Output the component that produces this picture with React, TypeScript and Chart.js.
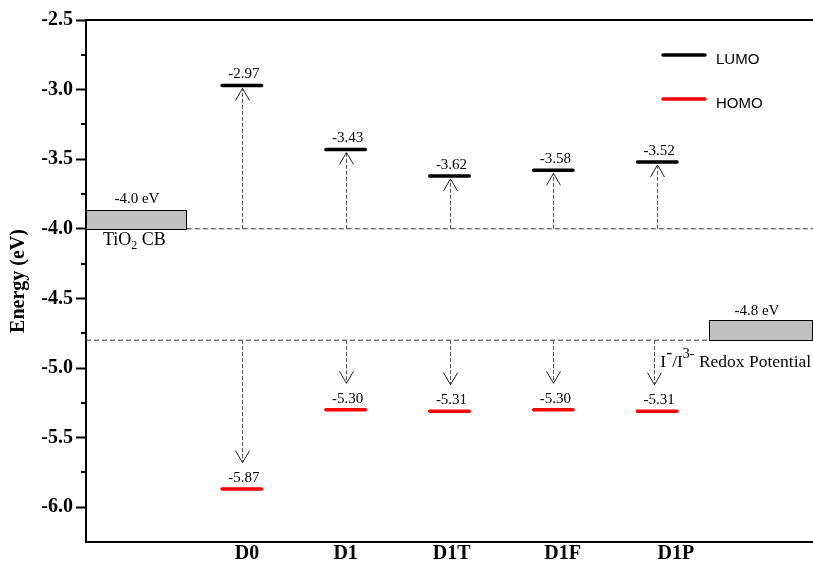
import React, { useEffect, useRef } from 'react';
import { Chart, registerables } from 'chart.js';

Chart.register(...registerables);

// ---------- data ----------
const categories = ['D0', 'D1', 'D1T', 'D1F', 'D1P'];
const lumo = [-2.97, -3.43, -3.62, -3.58, -3.52];
const homo = [-5.87, -5.3, -5.31, -5.3, -5.31];
const lumoLabels = ['-2.97', '-3.43', '-3.62', '-3.58', '-3.52'];
const homoLabels = ['-5.87', '-5.30', '-5.31', '-5.30', '-5.31'];
const tio2CB = -4.0;
const redoxPotential = -4.8;
const tio2Label = '-4.0 eV';
const redoxLabel = '-4.8 eV';
const yMajorTicks = [-2.5, -3.0, -3.5, -4.0, -4.5, -5.0, -5.5, -6.0];
const yMinorTicks = [-2.75, -3.25, -3.75, -4.25, -4.75, -5.25, -5.75];
const legendLabels = ['LUMO', 'HOMO'];

// ---------- style ----------
const SERIF = '"Liberation Serif", "Times New Roman", Times, serif';
const SANS = '"Liberation Sans", Arial, sans-serif';
const HALF = 0.19;
const xLabelShift = [0.05, 0, 0.02, 0.09, 0.18];

function levelData(values: number[]) {
  const pts: { x: number; y: number | null }[] = [];
  values.forEach((v, i) => {
    pts.push({ x: i + 1 - HALF, y: v });
    pts.push({ x: i + 1 + HALF, y: v });
    pts.push({ x: i + 1 + HALF + 0.01, y: null });
  });
  return pts;
}

function drawArrow(ctx: CanvasRenderingContext2D, px: number, y0: number, y1: number) {
  const x = Math.round(px) + 0.5;
  ctx.save();
  ctx.lineWidth = 1;
  ctx.strokeStyle = '#555';
  ctx.setLineDash([4, 2]);
  ctx.beginPath();
  ctx.moveTo(x, y0);
  ctx.lineTo(x, y1);
  ctx.stroke();
  ctx.setLineDash([]);
  ctx.strokeStyle = '#222';
  const dir = y1 < y0 ? 1 : -1;
  ctx.beginPath();
  ctx.moveTo(x - 7, y1 + dir * 12);
  ctx.lineTo(x, y1);
  ctx.lineTo(x + 7, y1 + dir * 12);
  ctx.stroke();
  ctx.restore();
}

function drawRich(
  ctx: CanvasRenderingContext2D,
  x: number,
  y: number,
  parts: { t: string; size: number; dy: number }[]
) {
  let cx = x;
  ctx.save();
  ctx.textAlign = 'left';
  ctx.textBaseline = 'alphabetic';
  ctx.fillStyle = '#000';
  for (const p of parts) {
    ctx.font = `${p.size}px ${SERIF}`;
    ctx.fillText(p.t, cx, y + p.dy);
    cx += ctx.measureText(p.t).width;
  }
  ctx.restore();
}

const annotate = {
  id: 'annotate',
  afterDatasetsDraw(chart: any) {
    const { ctx, chartArea } = chart;
    const xs = chart.scales.x;
    const ys = chart.scales.y;
    ctx.save();

    // top frame line
    ctx.strokeStyle = '#000';
    ctx.lineWidth = 2;
    ctx.beginPath();
    ctx.moveTo(chartArea.left - 1, chartArea.top);
    ctx.lineTo(chartArea.right, chartArea.top);
    ctx.stroke();

    // minor ticks
    ctx.lineWidth = 2;
    yMinorTicks.forEach((v) => {
      const py = Math.round(ys.getPixelForValue(v));
      ctx.beginPath();
      ctx.moveTo(chartArea.left - 5, py);
      ctx.lineTo(chartArea.left, py);
      ctx.stroke();
    });

    // boxes
    ctx.lineWidth = 1;
    const drawBox = (x0: number, x1: number, yTop: number, yBot: number) => {
      const l = Math.round(xs.getPixelForValue(x0)) + 0.5;
      const r = Math.round(xs.getPixelForValue(x1)) - 0.5;
      const t = Math.round(ys.getPixelForValue(yTop)) + 0.5;
      const b = Math.round(ys.getPixelForValue(yBot)) + 0.5;
      ctx.fillStyle = '#c0c0c0';
      ctx.fillRect(l, t, r - l, b - t);
      ctx.strokeStyle = '#000';
      ctx.strokeRect(l, t, r - l, b - t);
    };
    drawBox(-0.5, 0.47, tio2CB + 0.135, tio2CB);
    drawBox(5.5, 6.5, redoxPotential + 0.145, redoxPotential);

    // arrows
    const baseL = ys.getPixelForValue(tio2CB);
    const baseH = ys.getPixelForValue(redoxPotential);
    categories.forEach((_, i) => {
      const px = xs.getPixelForValue(i + 1);
      drawArrow(ctx, px, baseL, ys.getPixelForValue(lumo[i]) + 3);
      const hx = xs.getPixelForValue(i + 1 + (i === 4 ? -0.03 : 0));
      drawArrow(ctx, hx, baseH, ys.getPixelForValue(homo[i] + 0.19));
    });

    // value labels
    ctx.fillStyle = '#000';
    ctx.textAlign = 'center';
    ctx.textBaseline = 'alphabetic';
    ctx.font = `15px ${SERIF}`;
    categories.forEach((_, i) => {
      const px = xs.getPixelForValue(i + 1) + 2;
      ctx.fillText(lumoLabels[i], px, ys.getPixelForValue(lumo[i]) - 7);
      ctx.fillText(homoLabels[i], px, ys.getPixelForValue(homo[i]) - 7);
    });

    // box labels
    ctx.fillText(tio2Label, xs.getPixelForValue(-0.01), ys.getPixelForValue(tio2CB + 0.135) - 7);
    ctx.fillText(redoxLabel, xs.getPixelForValue(5.96), ys.getPixelForValue(redoxPotential + 0.145) - 5);

    drawRich(ctx, chartArea.left + 17, ys.getPixelForValue(tio2CB) + 9 + 7, [
      { t: 'TiO', size: 18, dy: 0 },
      { t: '2', size: 12, dy: 4 },
      { t: ' CB', size: 18, dy: 0 },
    ]);
    drawRich(ctx, xs.getPixelForValue(5.03), ys.getPixelForValue(redoxPotential) + 27, [
      { t: 'I', size: 17.5, dy: 0 },
      { t: '-', size: 18, dy: -9 },
      { t: '/I', size: 17.5, dy: 0 },
      { t: '3-', size: 14, dy: -9 },
      { t: ' Redox Potential', size: 17.5, dy: 0 },
    ]);

    // legend
    const lx0 = chartArea.left + 577;
    const lx1 = lx0 + 42;
    const legendColors = ['#000', '#ff0000'];
    legendLabels.forEach((lab, i) => {
      const ly = chartArea.top + 35 + i * 44;
      ctx.strokeStyle = legendColors[i];
      ctx.lineWidth = 3.5;
      ctx.lineCap = 'round';
      ctx.beginPath();
      ctx.moveTo(lx0, ly);
      ctx.lineTo(lx1, ly);
      ctx.stroke();
      ctx.fillStyle = '#000';
      ctx.textAlign = 'left';
      ctx.font = `15px ${SANS}`;
      ctx.fillText(lab, lx1 + 11, ly + 9);
    });

    ctx.restore();
  },
};

export default function App() {
  const ref = useRef<HTMLCanvasElement | null>(null);

  useEffect(() => {
    if (!ref.current) return;
    const chart = new Chart(ref.current, {
      type: 'scatter',
      data: {
        datasets: [
          {
            label: 'LUMO',
            data: levelData(lumo),
            showLine: true,
            spanGaps: false,
            borderColor: '#000',
            borderWidth: 3.5,
            borderCapStyle: 'round',
            pointRadius: 0,
          },
          {
            label: 'HOMO',
            data: levelData(homo),
            showLine: true,
            spanGaps: false,
            borderColor: '#ff0000',
            borderWidth: 3.5,
            borderCapStyle: 'round',
            pointRadius: 0,
          },
          {
            label: 'TiO2 CB',
            data: [
              { x: 0.47, y: tio2CB },
              { x: 6.5, y: tio2CB },
            ],
            showLine: true,
            borderColor: '#333',
            borderWidth: 1,
            borderDash: [5, 3],
            pointRadius: 0,
          },
          {
            label: 'Redox',
            data: [
              { x: -0.5, y: redoxPotential },
              { x: 5.5, y: redoxPotential },
            ],
            showLine: true,
            borderColor: '#333',
            borderWidth: 1,
            borderDash: [5, 3],
            pointRadius: 0,
          },
        ],
      } as any,
      options: {
        animation: false,
        responsive: false,
        maintainAspectRatio: false,
        layout: { padding: { top: 20, left: 0, right: 0, bottom: 0 } },
        plugins: {
          legend: { display: false },
          tooltip: { enabled: false },
        },
        scales: {
          x: {
            type: 'linear',
            min: -0.5,
            max: 6.5,
            afterBuildTicks: (scale: any) => {
              scale.ticks = categories.map((_, i) => ({ value: i + 1 + xLabelShift[i] }));
            },
            afterFit: (scale: any) => {
              scale.height = 22;
            },
            grid: { display: false, drawTicks: false },
            border: { display: true, color: '#000', width: 2 },
            ticks: {
              autoSkip: false,
              maxRotation: 0,
              padding: 0,
              color: '#000',
              font: { family: SERIF, size: 20, weight: 'bold' },
              callback: (_v: any, idx: number) => categories[idx],
            },
          },
          y: {
            type: 'linear',
            min: -6.25,
            max: -2.5,
            afterBuildTicks: (scale: any) => {
              scale.ticks = yMajorTicks.map((v) => ({ value: v }));
            },
            afterFit: (scale: any) => {
              scale.width = 86;
            },
            grid: {
              display: true,
              drawOnChartArea: false,
              drawTicks: true,
              tickLength: 10,
              tickWidth: 2,
              tickColor: '#000',
            },
            border: { display: true, color: '#000', width: 2 },
            ticks: {
              autoSkip: false,
              padding: 3,
              color: '#000',
              font: { family: SERIF, size: 20, weight: 'bold' },
              callback: (v: any) => Number(v).toFixed(1),
            },
            title: {
              display: true,
              text: 'Energy (eV)',
              color: '#000',
              font: { family: SERIF, size: 20, weight: 'bold' },
              padding: { top: 7, bottom: 0 },
            },
          },
        },
      } as any,
      plugins: [annotate],
    });
    return () => chart.destroy();
  }, []);

  return (
    <div style={{ position: 'absolute', left: 0, top: 0, width: 813, height: 564, background: '#fff' }}>
      <canvas ref={ref} width={813} height={564} style={{ display: 'block' }} />
    </div>
  );
}
